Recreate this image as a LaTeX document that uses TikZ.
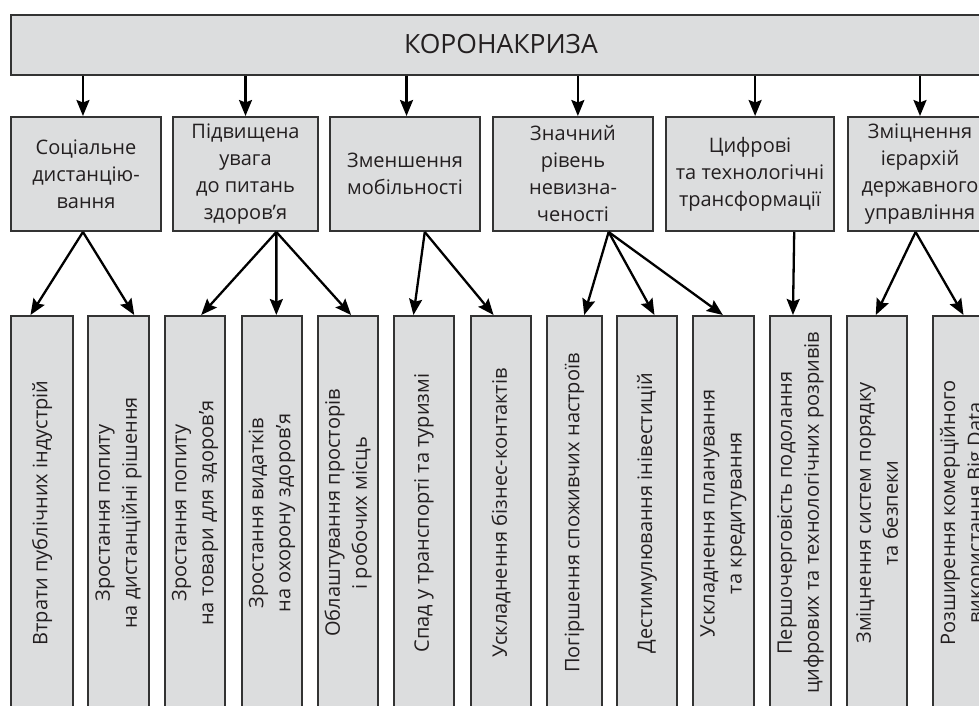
\documentclass[tikz,border=0pt]{standalone}
\usepackage{fontspec}
\setmainfont{Open Sans}
\usetikzlibrary{arrows.meta,calc}
\definecolor{boxfill}{HTML}{DCDDDE}
\definecolor{boxline}{HTML}{333333}
\definecolor{txt}{HTML}{231F20}
\begin{document}
\begin{tikzpicture}[x=1pt,y=-1pt,
  box/.style={draw=boxline,line width=2pt,fill=boxfill,inner sep=0pt,anchor=north west},
  lbl/.style={text=txt,align=center,inner sep=0pt,font=\fontsize{20}{27}\selectfont},
  vlbl/.style={lbl,rotate=90},
  arr/.style={draw=black,line width=2.3pt,-{Stealth[length=16pt,width=13pt,inset=2.5pt]}}]
\useasboundingbox[fill=white] (0,0) rectangle (979,705);
% top
\node[box,minimum width=982pt,minimum height=60pt] (top) at (10,14) {};
\node[lbl,font=\fontsize{26.5}{30}\selectfont] at (501,44) {КОРОНАКРИЗА};
% row 2
\node[box,minimum width=150pt,minimum height=114pt] (s1) at (10,116) {};
\node[box,minimum width=145pt,minimum height=114pt] (s2) at (172,116) {};
\node[box,minimum width=150pt,minimum height=114pt] (s3) at (329,116) {};
\node[box,minimum width=160pt,minimum height=114pt] (s4) at (492,116) {};
\node[box,minimum width=168pt,minimum height=114pt] (s5) at (665,116) {};
\node[box,minimum width=144pt,minimum height=114pt] (s6) at (847,116) {};
\node[lbl] at (s1.center) {Соціальне\\дистанцію-\\вання};
\node[lbl] at (s2.center) {Підвищена\\увага\\до питань\\здоров’я};
\node[lbl] at (s3.center) {Зменшення\\мобільності};
\node[lbl] at (s4.center) {Значний\\рівень\\невизна-\\ченості};
\node[lbl] at (s5.center) {Цифрові\\та технологічні\\трансформації};
\node[lbl] at (s6.center) {Зміцнення\\ієрархій\\державного\\управління};
% row 3
\node[box,minimum width=62pt,minimum height=394pt] (b1) at (10,315) {};
\node[box,minimum width=61pt,minimum height=394pt] (b2) at (87,315) {};
\node[box,minimum width=60pt,minimum height=394pt] (b3) at (164,315) {};
\node[box,minimum width=60pt,minimum height=394pt] (b4) at (241,315) {};
\node[box,minimum width=60pt,minimum height=394pt] (b5) at (317,315) {};
\node[box,minimum width=60pt,minimum height=394pt] (b6) at (393,315) {};
\node[box,minimum width=60pt,minimum height=394pt] (b7) at (470,315) {};
\node[box,minimum width=55pt,minimum height=394pt] (b8) at (546,315) {};
\node[box,minimum width=60pt,minimum height=394pt] (b9) at (616,315) {};
\node[box,minimum width=61pt,minimum height=394pt] (b10) at (692,315) {};
\node[box,minimum width=61pt,minimum height=394pt] (b11) at (769,315) {};
\node[box,minimum width=60pt,minimum height=394pt] (b12) at (846,315) {};
\node[box,minimum width=61pt,minimum height=394pt] (b13) at (932,315) {};
\node[vlbl] at (b1.center) {Втрати публічних індустрій};
\node[vlbl] at (b2.center) {Зростання попиту\\на дистанційні рішення};
\node[vlbl] at (b3.center) {Зростання попиту\\на товари для здоров’я};
\node[vlbl] at (b4.center) {Зростання видатків\\на охорону здоров’я};
\node[vlbl] at (b5.center) {Облаштування просторів\\і робочих місць};
\node[vlbl] at (b6.center) {Спад у транспорті та туризмі};
\node[vlbl] at (b7.center) {Ускладнення бізнес-контактів};
\node[vlbl] at (b8.center) {Погіршення споживчих настроїв};
\node[vlbl] at (b9.center) {Дестимулювання інівестицій};
\node[vlbl] at (b10.center) {Ускладнення планування\\та кредитування};
\node[vlbl] at (b11.center) {Першочерговість подолання\\цифрових та технологічних розривів};
\node[vlbl] at (b12.center) {Зміцнення систем порядку\\та безпеки};
\node[vlbl] at (b13.center) {Розширення комерційного\\використання Big Data};
% arrows top -> row 2
\coordinate (t1) at ($(s1.north west)!0.48!(s1.north east)$);
\coordinate (t2) at ($(s2.north west)!0.50!(s2.north east)$);
\coordinate (t3) at ($(s3.north west)!0.51!(s3.north east)$);
\coordinate (t4) at ($(s4.north west)!0.53!(s4.north east)$);
\coordinate (t5) at ($(s5.north west)!0.53!(s5.north east)$);
\coordinate (t6) at ($(s6.north west)!0.50!(s6.north east)$);
\foreach \i in {1,...,6} {\draw[arr] (top.south -| t\i) -- (t\i);}
% sources on row 2
\coordinate (o1) at ($(s1.south west)!0.48!(s1.south east)$);
\coordinate (o2) at ($(s2.south west)!0.71!(s2.south east)$);
\coordinate (o3) at ($(s3.south west)!0.63!(s3.south east)$);
\coordinate (o4) at ($(s4.south west)!0.72!(s4.south east)$);
\coordinate (o5) at ($(s5.south west)!0.76!(s5.south east)$);
\coordinate (o6) at ($(s6.south west)!0.47!(s6.south east)$);
% targets on row 3
\coordinate (e1) at ($(b1.north west)!0.32!(b1.north east)$);
\coordinate (e2) at ($(b2.north west)!0.75!(b2.north east)$);
\coordinate (e3) at ($(b3.north west)!0.60!(b3.north east)$);
\coordinate (e4) at ($(b4.north west)!0.57!(b4.north east)$);
\coordinate (e5) at ($(b5.north west)!0.55!(b5.north east)$);
\coordinate (e6) at ($(b6.north west)!0.33!(b6.north east)$);
\coordinate (e7) at ($(b7.north west)!0.38!(b7.north east)$);
\coordinate (e8) at ($(b8.north west)!0.67!(b8.north east)$);
\coordinate (e9) at ($(b9.north west)!0.62!(b9.north east)$);
\coordinate (e10) at ($(b10.north west)!0.49!(b10.north east)$);
\coordinate (e11) at ($(b11.north west)!0.38!(b11.north east)$);
\coordinate (e12) at ($(b12.north west)!0.48!(b12.north east)$);
\coordinate (e13) at ($(b13.north west)!0.50!(b13.north east)$);
\draw[arr] (o1) -- (e1);
\draw[arr] (o1) -- (e2);
\draw[arr] (o2) -- (e3);
\draw[arr] (o2) -- (e4);
\draw[arr] (o2) -- (e5);
\draw[arr] (o3) -- (e6);
\draw[arr] (o3) -- (e7);
\draw[arr] (o4) -- (e8);
\draw[arr] (o4) -- (e9);
\draw[arr] (o4) -- (e10);
\draw[arr] (o5) -- (e11);
\draw[arr] (o6) -- (e12);
\draw[arr] (o6) -- (e13);
\end{tikzpicture}
\end{document}
